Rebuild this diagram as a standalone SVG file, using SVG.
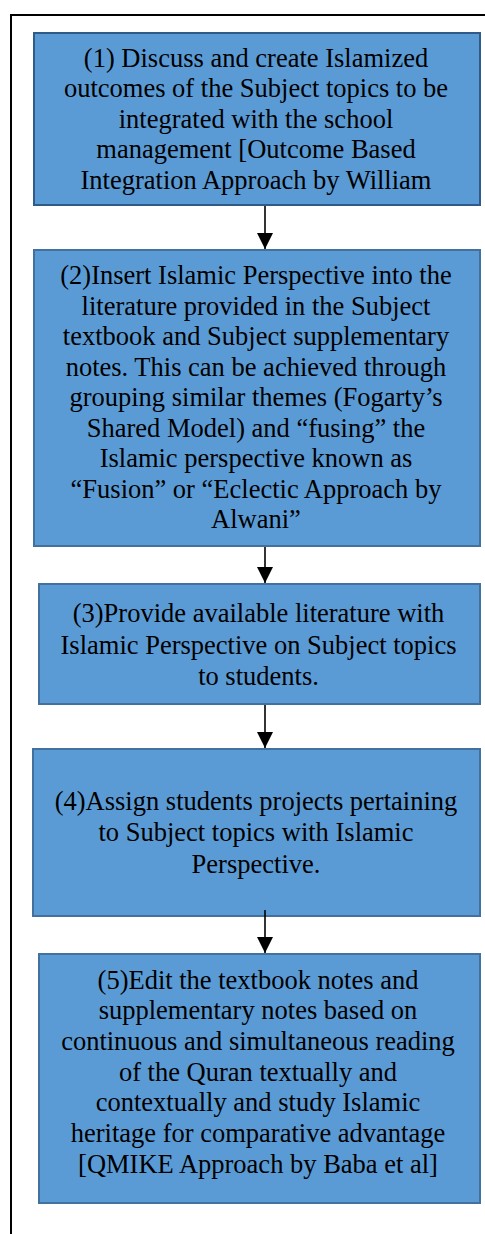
<svg xmlns="http://www.w3.org/2000/svg" width="485" height="1234" viewBox="0 0 485 1234">
<style>
.box{fill:#5b9bd5;stroke:#41719c;stroke-width:2}
.box1{stroke:#2e5b87}
.t{font-family:"Liberation Serif","Times New Roman",serif;font-size:26.5px;fill:#000;text-anchor:middle}
.conn{stroke:#000;stroke-width:1.6;fill:none}
</style>
<defs>
<marker id="ah" viewBox="0 0 16 16" markerWidth="16" markerHeight="16" refX="16" refY="8" orient="auto" markerUnits="userSpaceOnUse">
<path d="M0,0 L16,8 L0,16 z" fill="#000"/>
</marker>
</defs>
<rect x="11" y="15" width="482" height="1232" fill="#fff" stroke="#000" stroke-width="2"/>
<g id="node1">
<rect class="box box1" x="34" y="33" width="446" height="172"/>
<text class="t"><tspan x="256" y="67">(1) Discuss and create Islamized</tspan><tspan x="256" y="97.4">outcomes of the Subject topics to be</tspan><tspan x="256" y="127.8">integrated with the school</tspan><tspan x="256" y="158.2">management [Outcome Based</tspan><tspan x="256" y="188.6">Integration Approach by William</tspan></text>
</g>
<g id="node2">
<rect class="box" x="34" y="250" width="446" height="296"/>
<text class="t"><tspan x="256" y="284">(2)Insert Islamic Perspective into the</tspan><tspan x="256" y="314.5">literature provided in the Subject</tspan><tspan x="256" y="345">textbook and Subject supplementary</tspan><tspan x="256" y="375.5">notes. This can be achieved through</tspan><tspan x="256" y="406">grouping similar themes (Fogarty’s</tspan><tspan x="256" y="436.5">Shared Model) and “fusing” the</tspan><tspan x="256" y="467">Islamic perspective known as</tspan><tspan x="256" y="497.5">“Fusion” or “Eclectic Approach by</tspan><tspan x="256" y="528">Alwani”</tspan></text>
</g>
<g id="node3">
<rect class="box" x="39" y="584" width="441" height="120"/>
<text class="t"><tspan x="258.5" y="622">(3)Provide available literature with</tspan><tspan x="258.5" y="653.5">Islamic Perspective on Subject topics</tspan><tspan x="258.5" y="685">to students.</tspan></text>
</g>
<g id="node4">
<rect class="box" x="33" y="749" width="447" height="167"/>
<text class="t"><tspan x="256" y="809.5">(4)Assign students projects pertaining</tspan><tspan x="256" y="841">to Subject topics with Islamic</tspan><tspan x="256" y="872.5">Perspective.</tspan></text>
</g>
<g id="node5">
<rect class="box" x="39" y="954" width="441" height="249"/>
<text class="t"><tspan x="258" y="988.5">(5)Edit the textbook notes and</tspan><tspan x="258" y="1019.2">supplementary notes based on</tspan><tspan x="258" y="1049.9">continuous and simultaneous reading</tspan><tspan x="258" y="1080.6">of the Quran textually and</tspan><tspan x="258" y="1111.3">contextually and study Islamic</tspan><tspan x="258" y="1142">heritage for comparative advantage</tspan><tspan x="258" y="1172.7">[QMIKE Approach by Baba et al]</tspan></text>
</g>
<g id="connectors">
<line class="conn" x1="265" y1="206" x2="265" y2="249" marker-end="url(#ah)"/>
<line class="conn" x1="265" y1="547" x2="265" y2="583" marker-end="url(#ah)"/>
<line class="conn" x1="265" y1="705" x2="265" y2="748" marker-end="url(#ah)"/>
<line class="conn" x1="265" y1="910" x2="265" y2="953" marker-end="url(#ah)"/>
</g>
</svg>
